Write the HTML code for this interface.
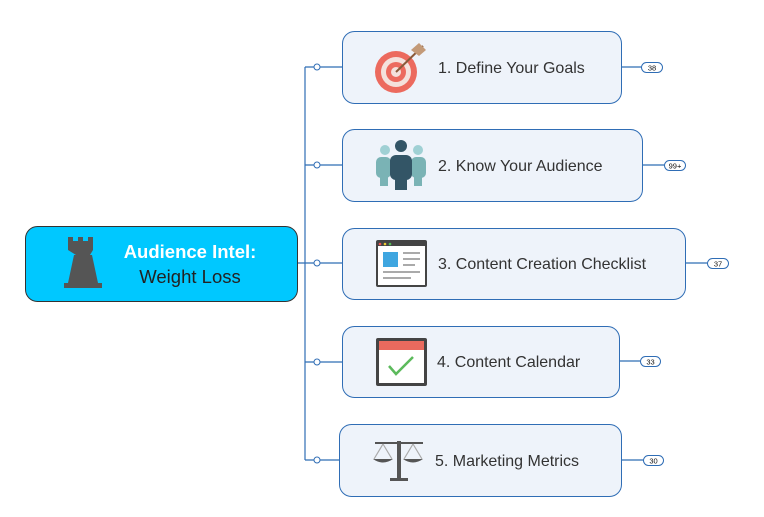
<!DOCTYPE html>
<html><head><meta charset="utf-8"><style>
html,body{margin:0;padding:0;background:#fff;width:764px;height:517px;overflow:hidden}
text{font-family:"Liberation Sans",sans-serif}
</style></head><body>
<svg width="764" height="517" viewBox="0 0 764 517" xmlns="http://www.w3.org/2000/svg">
<g stroke="#2f6db5" stroke-width="1.2" fill="none">
<path d="M297 263 H305 M305 67 V460 M305 67 H342 M305 165 H342 M305 263 H342 M305 362 H342 M305 460 H339"/>
<path d="M621 67 H641 M642 165 H664 M685 263 H707 M619 361 H640 M621 460 H643"/>
</g>
<g fill="#fff" stroke="#2f6db5" stroke-width="1">
<circle cx="317" cy="67" r="3"/><circle cx="317" cy="165" r="3"/><circle cx="317" cy="263" r="3"/><circle cx="317" cy="362" r="3"/><circle cx="317" cy="460" r="3"/>
</g>
<rect x="25.5" y="226.5" width="272" height="75" rx="12" fill="#00c8ff" stroke="#333" stroke-width="1"/>
<g fill="#555">
<rect x="64" y="283" width="38" height="5"/>
<path d="M68 283 L74 255 H92 L98 283 Z"/>
<path d="M68 237 H73 V241 H78 V237 H83 V241 H88 V237 H93 V250 L90 255 H76 L68 250 Z"/>
</g>
<text x="190" y="258" text-anchor="middle" font-size="18.5" font-weight="bold" fill="#fff">Audience Intel:</text>
<text x="190" y="283" text-anchor="middle" font-size="18.5" fill="#222">Weight Loss</text>
<g fill="#eef3fa" stroke="#2f6db5" stroke-width="1">
<rect x="342.5" y="31.5" width="279" height="72" rx="12"/>
<rect x="342.5" y="129.5" width="300" height="72" rx="12"/>
<rect x="342.5" y="228.5" width="343" height="71" rx="12"/>
<rect x="342.5" y="326.5" width="277" height="71" rx="12"/>
<rect x="339.5" y="424.5" width="282" height="72" rx="12"/>
</g>
<g font-size="16" fill="#333">
<text x="438" y="73">1. Define Your Goals</text>
<text x="438" y="171">2. Know Your Audience</text>
<text x="438" y="269">3. Content Creation Checklist</text>
<text x="437" y="367">4. Content Calendar</text>
<text x="435" y="466">5. Marketing Metrics</text>
</g>
<circle cx="396" cy="72" r="21" fill="#ec6a5e"/><circle cx="396" cy="72" r="15" fill="#f4e1dc"/><circle cx="396" cy="72" r="10" fill="#ec6a5e"/><circle cx="396" cy="72" r="5" fill="#f4e1dc"/>
<line x1="396" y1="72" x2="423" y2="46" stroke="#8a5a3a" stroke-width="2"/>
<path d="M411 50 L419 43 L426 50 L419 56 Z" fill="#c39a78"/>
<g fill="#7ab3b5"><circle cx="385" cy="150" r="5" fill="#9fd0d4"/><circle cx="418" cy="150" r="5" fill="#9fd0d4"/>
<rect x="376" y="157" width="15" height="21" rx="5"/><rect x="411" y="157" width="15" height="21" rx="5"/>
<rect x="380" y="170" width="8" height="16"/><rect x="414" y="170" width="8" height="16"/></g>
<g fill="#335566"><circle cx="401" cy="146" r="6"/><rect x="390" y="155" width="22" height="25" rx="6"/><rect x="395" y="170" width="12" height="20"/></g>
<rect x="376" y="240" width="51" height="47" rx="2" fill="#444"/><rect x="378" y="246" width="47" height="39" fill="#fff"/>
<circle cx="380" cy="244" r="1.3" fill="#e55"/><circle cx="385" cy="244" r="1.3" fill="#ec3"/><circle cx="390" cy="244" r="1.3" fill="#5b5"/>
<rect x="383" y="252" width="15" height="15" fill="#3fa6e0"/>
<g fill="#aaa"><rect x="403" y="252" width="17" height="2"/><rect x="403" y="258" width="17" height="2"/><rect x="403" y="264" width="12" height="2"/><rect x="383" y="271" width="37" height="2"/><rect x="383" y="277" width="28" height="2"/></g>
<rect x="376" y="338" width="51" height="48" rx="2" fill="#444"/><rect x="379" y="341" width="45" height="42" fill="#fff"/><rect x="379" y="341" width="45" height="9" fill="#e96a5e"/>
<path d="M389 366 L396 374 L413 357" stroke="#5cba5c" stroke-width="2.5" fill="none"/>
<g fill="#555"><rect x="397" y="441" width="4" height="38"/><rect x="390" y="478" width="18" height="3"/><rect x="375" y="442" width="48" height="2"/>
<path d="M373 459 H393 Q383 466 373 459 Z"/><path d="M403 459 H423 Q413 466 403 459 Z"/></g>
<g stroke="#aaa" stroke-width="1.2"><path d="M383 444 L374 459 M383 444 L392 459 M413 444 L404 459 M413 444 L422 459"/></g>
<g fill="#fff" stroke="#2f6db5" stroke-width="1">
<rect x="641.5" y="62.5" width="21" height="10" rx="5"/><rect x="664.5" y="160.5" width="21" height="10" rx="5"/><rect x="707.5" y="258.5" width="21" height="10" rx="5"/><rect x="640.5" y="356.5" width="20" height="10" rx="5"/><rect x="643.5" y="455.5" width="20" height="10" rx="5"/>
</g>
<g font-size="7.5" fill="#111" text-anchor="middle">
<text x="652" y="70.5">38</text><text x="675" y="168.5">99+</text><text x="718" y="266.5">37</text><text x="650.5" y="364.5">33</text><text x="653.5" y="463.5">30</text>
</g>
</svg>
</body></html>
